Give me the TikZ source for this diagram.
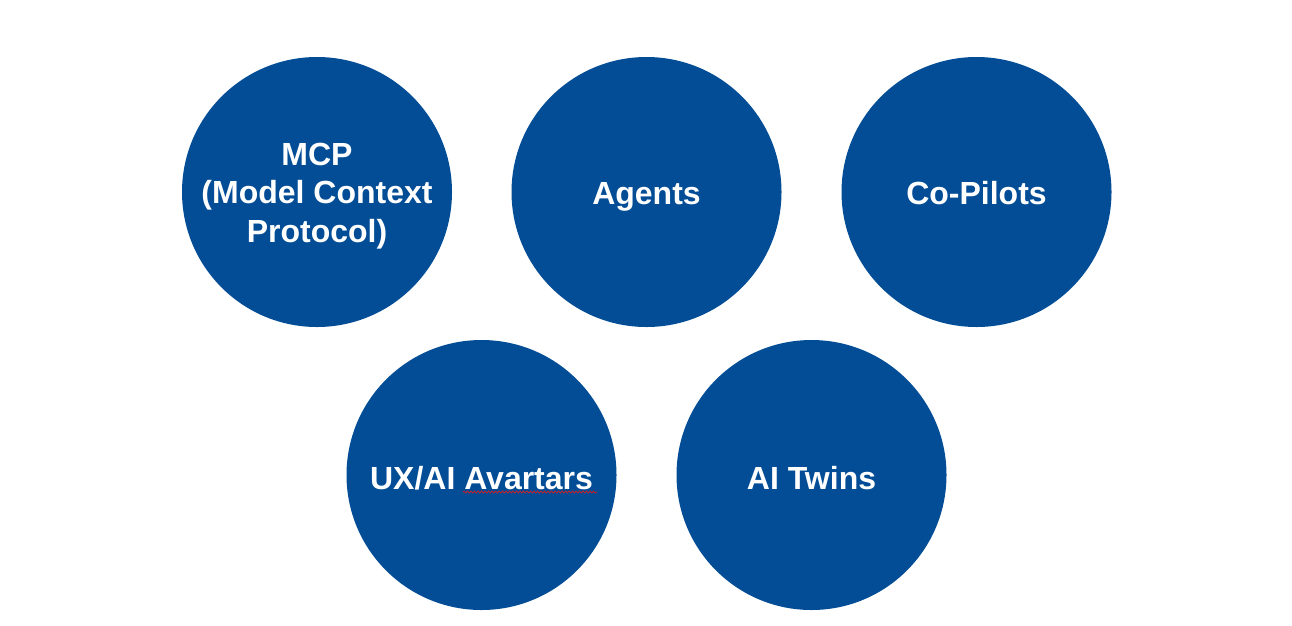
\documentclass[tikz,border=0pt]{standalone}
\usepackage{fontspec}
\setmainfont{Liberation Sans}
\usetikzlibrary{decorations.pathmorphing}
\definecolor{topicblue}{RGB}{2,77,150}
\definecolor{spellred}{RGB}{220,30,30}
\tikzset{
  topic/.style={circle, fill=topicblue, draw=none, minimum size=270pt, inner sep=0pt},
  caption/.style={text=white, font=\fontsize{32pt}{38.5pt}\selectfont\bfseries,
    align=center, inner sep=0pt, anchor=base},
  squiggle/.style={draw=spellred, line width=0.7pt, decorate,
    decoration={snake, amplitude=1pt, segment length=3.5pt}}
}
\begin{document}
\begin{tikzpicture}[x=1pt,y=-1pt]
\useasboundingbox (0,0) rectangle (1292,625);
\node[topic] (mcp) at (317,192) {};
\node[topic] (agents) at (646.5,192) {};
\node[topic] (copilots) at (976.5,192) {};
\node[topic] (ux) at (481.5,475) {};
\node[topic] (twins) at (811.5,475) {};
\node[caption] (mcptext) at ([yshift=-50pt]mcp.center) {MCP\\(Model Context\\Protocol)};
\node[caption] (agentstext) at ([yshift=-12pt]agents.center) {Agents};
\node[caption] (copilotstext) at ([yshift=-12pt]copilots.center) {Co-Pilots};
\node[caption] (uxtext) at ([yshift=-14pt]ux.center) {UX/AI Avartars};
\node[caption] (twinstext) at ([yshift=-14pt]twins.center) {AI Twins};
\coordinate (sqa) at (463,492);
\coordinate (sqb) at (597,492);
\draw[squiggle] (sqa) -- (sqb);
\end{tikzpicture}
\end{document}
